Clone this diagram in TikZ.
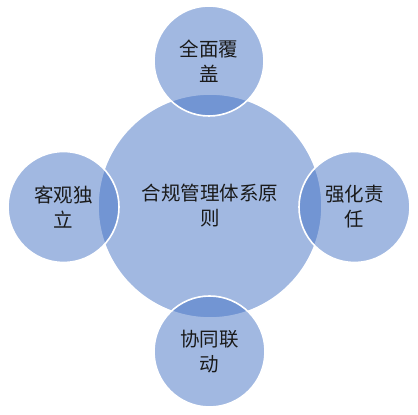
\documentclass[tikz,border=0pt]{standalone}
\usepackage{fontspec}
\newfontfamily\cjk{Noto Sans CJK SC}
\definecolor{accent}{HTML}{4472C4}
\definecolor{txt}{HTML}{1A1A1A}
\begin{document}
\begin{tikzpicture}[x=1pt,y=1pt,
  bubble/.style={circle, inner sep=0pt, fill=accent, fill opacity=0.5, text opacity=1,
    draw=white, draw opacity=1, line width=1.6pt, align=center, text=txt,
    font=\cjk\fontsize{19.5}{25}\selectfont}]
\useasboundingbox (0,0) rectangle (418,415);
\node[bubble, minimum size=224pt] (c) at (210,209) {合规管理体系原\\则};
\node[bubble, minimum size=110pt] (t) at (209,354) {全面覆\\盖};
\node[bubble, minimum size=111pt] (l) at (63.5,208) {客观独\\立};
\node[bubble, minimum size=111pt] (r) at (354.5,208) {强化责\\任};
\node[bubble, minimum size=111pt] (b) at (209.5,63.5) {协同联\\动};
\end{tikzpicture}
\end{document}
